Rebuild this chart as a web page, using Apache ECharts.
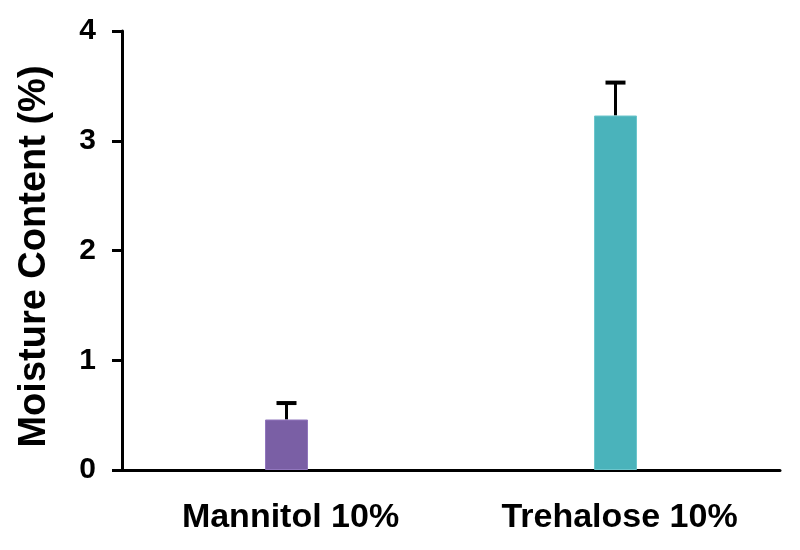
<!DOCTYPE html>
<html>
<head>
<meta charset="utf-8">
<script src="https://cdn.jsdelivr.net/npm/echarts@6/dist/echarts.min.js"></script>
<style>
  html, body { margin: 0; padding: 0; background: #fff; }
  #chart { width: 800px; height: 550px; }
</style>
</head>
<body>
<div id="chart"></div>
<script>
const categories = ['Mannitol 10%', 'Trehalose 10%']
const moisture = [0.46, 3.23]
const moistureErr = [0.15, 0.30]
const yTicks = [0, 1, 2, 3, 4]
const barColors = ['#7a5fa5', '#4ab3bb']

const chart = echarts.init(document.getElementById('chart'))
const font = 'Liberation Sans, Arial, sans-serif'

chart.setOption({
  animation: false,
  grid: {
    left: 122,
    right: 20,
    top: 31,
    bottom: 80
  },
  xAxis: {
    type: 'category',
    data: categories,
    axisLine: {
      lineStyle: { color: '#000', width: 3 }
    },
    axisTick: {
      alignWithLabel: true,
      length: 12,
      lineStyle: { color: '#000', width: 3 }
    },
    axisLabel: {
      color: '#000',
      fontFamily: font,
      fontWeight: 'bold',
      fontSize: 34,
      margin: 31,
      padding: [0, 0, 0, 8]
    }
  },
  yAxis: {
    type: 'value',
    min: yTicks[0],
    max: yTicks[yTicks.length - 1],
    interval: 1,
    name: 'Moisture Content (%)',
    nameLocation: 'middle',
    nameGap: 68,
    nameTextStyle: {
      color: '#000',
      fontFamily: font,
      fontWeight: 'bold',
      fontSize: 38,
      padding: [0, 12, 0, 0]
    },
    splitLine: { show: false },
    axisLine: {
      show: true,
      lineStyle: { color: '#000', width: 3 }
    },
    axisTick: {
      show: true,
      length: 10,
      lineStyle: { color: '#000', width: 3 }
    },
    axisLabel: {
      color: '#000',
      fontFamily: font,
      fontWeight: 'bold',
      fontSize: 30,
      margin: 26
    }
  },
  series: [
    {
      type: 'custom',
      z: 1,
      data: moisture.map((v, i) => [i, v, v + moistureErr[i]]),
      renderItem(params, api) {
        const base = api.coord([api.value(0), api.value(1)])
        const top = api.coord([api.value(0), api.value(2)])
        const half = 10
        return {
          type: 'group',
          children: [
            {
              type: 'line',
              shape: { x1: base[0], y1: base[1], x2: top[0], y2: top[1] },
              style: { stroke: '#000', lineWidth: 3 }
            },
            {
              type: 'line',
              shape: { x1: top[0] - half, y1: top[1], x2: top[0] + half, y2: top[1] },
              style: { stroke: '#000', lineWidth: 4 }
            }
          ]
        }
      }
    },
    {
      type: 'bar',
      z: 2,
      barWidth: 43,
      data: moisture.map((v, i) => ({
        value: v,
        itemStyle: { color: barColors[i], borderColor: i ? '#6cc6cc' : '#9176bd', borderWidth: 1 }
      }))
    }
  ]
})
</script>
</body>
</html>
